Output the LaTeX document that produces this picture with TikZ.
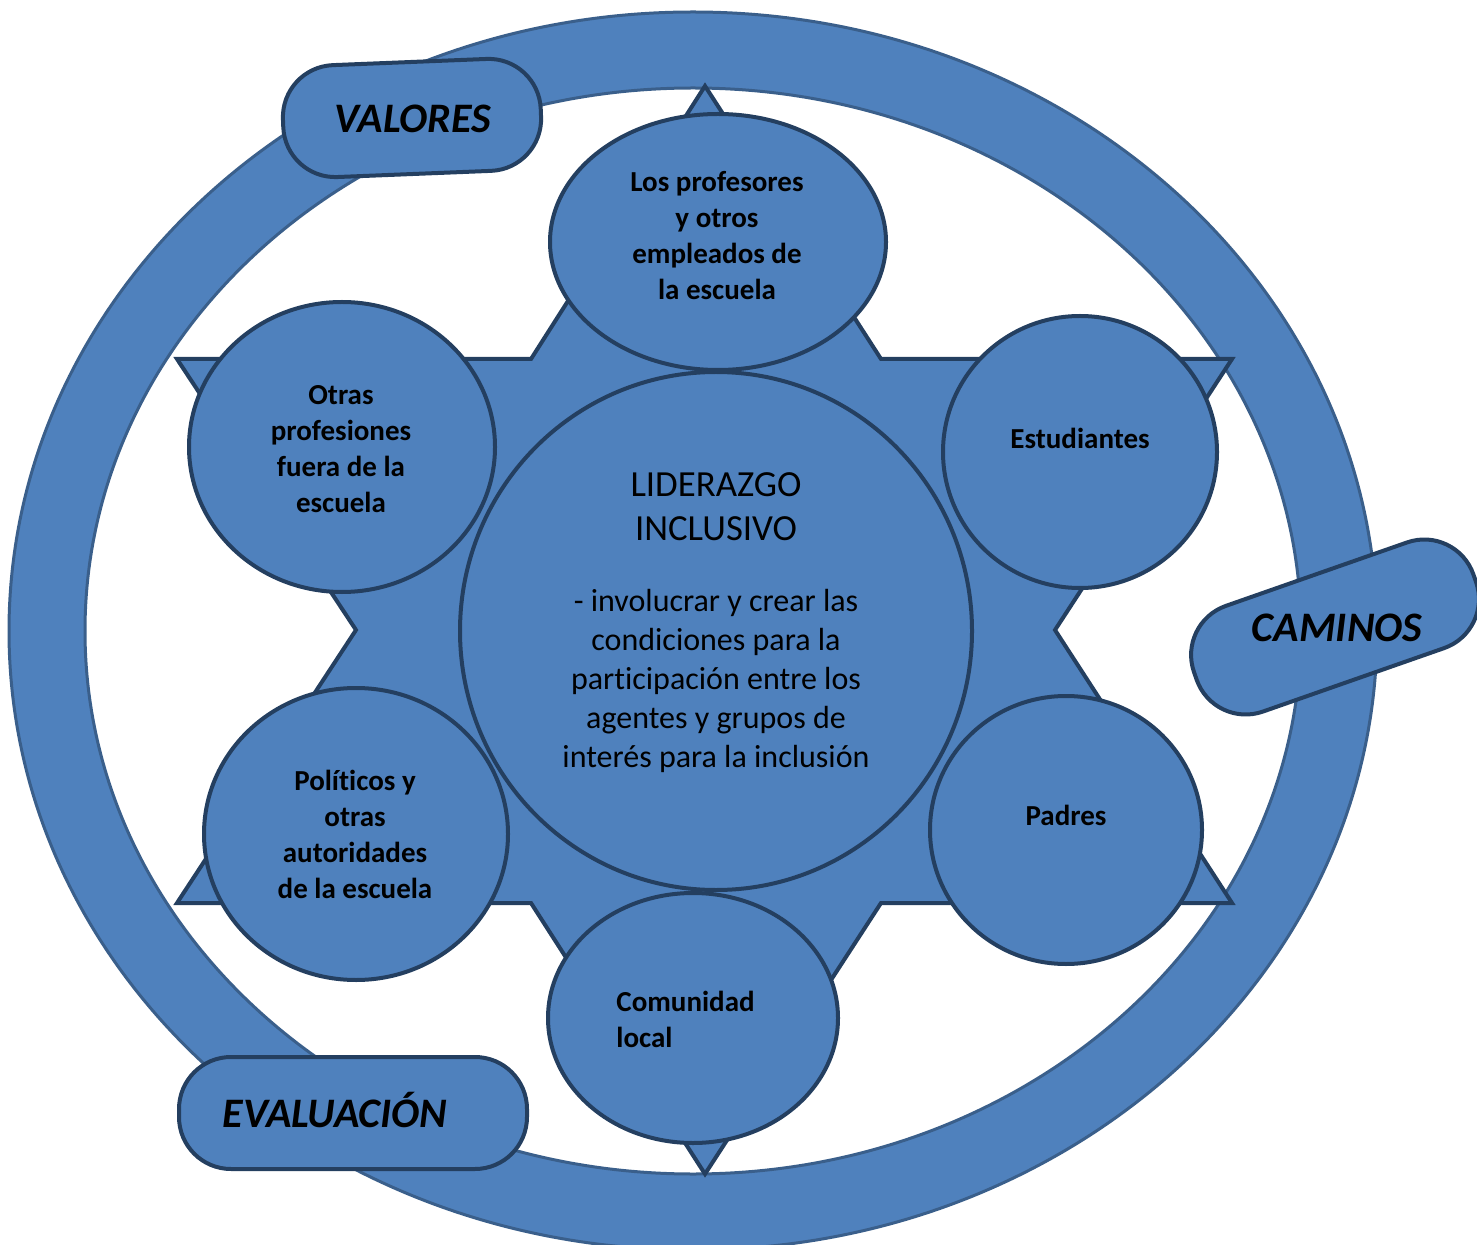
\documentclass[tikz,border=0pt]{standalone}
\usepackage{fontspec}
\setmainfont{Carlito}[Ligatures={NoCommon}]
\usetikzlibrary{shapes.geometric}

\definecolor{fillblue}{HTML}{4F81BD}
\definecolor{edgeblue}{HTML}{243F60}
\definecolor{ringedge}{HTML}{3A5F8B}

\begin{document}
\begin{tikzpicture}[x=0.5pt, y=-0.5pt,
        part/.style={draw=edgeblue, line width=2pt, fill=fillblue, ellipse, inner sep=0pt},
        tagbox/.style={draw=edgeblue, line width=2pt, fill=fillblue, rounded corners=26pt, minimum height=56pt, inner sep=0pt},
        lbl/.style={font=\bfseries\fontsize{14.5}{18}\selectfont, align=center, inner sep=0pt},
        tagtxt/.style={font=\bfseries\itshape\fontsize{21}{25}\selectfont, text height=13.5pt, text depth=0pt, inner sep=0pt}]
        \useasboundingbox (0,0) rectangle (1477,1245);

        \fill[fillblue, even odd rule] (693,631) ellipse [x radius=684, y radius=619] (693,631) ellipse [x radius=608, y radius=543];
        \draw[ringedge, line width=1.5pt] (693,631) ellipse [x radius=684, y radius=619];
        \draw[ringedge, line width=1.5pt] (693,631) ellipse [x radius=608, y radius=543];

        \draw[draw=edgeblue, line width=2pt, fill=fillblue] (705,86) -- (881,359) -- (1232,359) -- (1055,630) -- (1232,903) -- (881,903) -- (705,1174) -- (531,903) -- (177,903) -- (356,630) -- (177,359) -- (531,359) -- cycle;

        \node[part, minimum width=256pt, minimum height=259pt] (lider) at (716,631) {};
        \node[part, minimum width=168pt, minimum height=128pt] (profes) at (718,242) {};
        \node[part, minimum width=153pt, minimum height=145pt] (otras) at (342,447) {};
        \node[part, minimum width=137pt, minimum height=136pt] (estud) at (1080,452) {};
        \node[part, minimum width=152pt, minimum height=146pt] (polit) at (356,834) {};
        \node[part, minimum width=136pt, minimum height=134pt] (padres) at (1066,830) {};
        \node[part, minimum width=145pt, minimum height=125pt] (comun) at (693,1018) {};

        \node[align=center, inner sep=0pt, font=\fontsize{18.4}{22}\selectfont] (lidertit) at (716,507) {LIDERAZGO\\INCLUSIVO};
        \node[align=center, inner sep=0pt, font=\fontsize{16}{19.5}\selectfont] (lidertxt) at (716,681) {- involucrar y crear las\\condiciones para la\\participación entre los\\agentes y grupos de\\interés para la inclusión};

        \node[lbl] (profestxt) at (717,236) {Los profesores\\y otros\\empleados de\\la escuela};
        \node[lbl] (otrastxt) at (341,449) {Otras\\profesiones\\fuera de la\\escuela};
        \node[lbl] (estudtxt) at (1080,438) {Estudiantes};
        \node[lbl] (polittxt) at (355,834) {Políticos y\\otras\\autoridades\\de la escuela};
        \node[lbl] (padrestxt) at (1066,815) {Padres};
        \node[lbl, align=left, anchor=west] (comuntxt) at (616,1019) {Comunidad\\local};

        \node[tagbox, minimum width=129pt, rotate=2.3] (valbox) at (412,118) {};
        \node[tagtxt] (valtxt) at (413,119) {VALORES};
        \node[tagbox, minimum width=148pt, rotate=19.3] (cambox) at (1335,627) {};
        \node[tagtxt] (camtxt) at (1337,628) {CAMINOS};
        \node[tagbox, minimum width=174pt] (evabox) at (353,1113) {};
        \node[tagtxt] (evatxt) at (335,1114) {EVALUACIÓN};
    \end{tikzpicture}
\end{document}
